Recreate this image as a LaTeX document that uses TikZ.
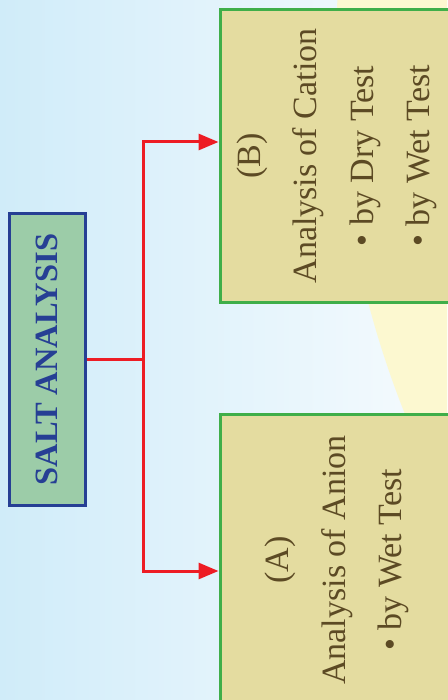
\documentclass[tikz,border=0pt]{standalone}
\usepackage{fontspec}
\setmainfont{Liberation Serif}
\usetikzlibrary{arrows.meta}

\definecolor{bgblue}{HTML}{D0ECF9}
\definecolor{bgwhite}{HTML}{F6FBFE}
\definecolor{glow}{HTML}{FCF8D0}
\definecolor{saltfill}{HTML}{9CCCA8}
\definecolor{saltblue}{HTML}{263F94}
\definecolor{linkred}{HTML}{ED1C24}
\definecolor{boxgreen}{HTML}{3FAE49}
\definecolor{boxfill}{HTML}{E4DCA0}
\definecolor{boxtext}{HTML}{5C4A24}

\tikzset{
    saltbox/.style={draw=saltblue, line width=3pt, fill=saltfill, rotate=90,
        minimum width=292pt, minimum height=76pt, text=saltblue,
        font=\fontsize{32.5}{38}\selectfont\bfseries},
    testbox/.style={draw=boxgreen, line width=3pt, fill=boxfill, rotate=90,
        minimum width=292pt, minimum height=234pt, text=boxtext, align=center,
        font=\fontsize{34}{56.5}\selectfont},
    redline/.style={draw=linkred, line width=3pt},
    link/.style={redline, -{Triangle[length=20pt,width=16pt]}},
}

\begin{document}
\begin{tikzpicture}[x=1pt, y=-1pt]
            \useasboundingbox (0,0) rectangle (447,700);
            \begin{scope}
                \clip (0,0) rectangle (447,700);
                \shade[left color=bgblue, right color=bgwhite] (0,0) rectangle (447,700);
                \fill[glow] (1312,53) circle[radius=976pt];
            \end{scope}

            \node[saltbox] (salt) at (47,359.5) {SALT ANALYSIS};
            \node[testbox] (cation) at (337,156) {(B)\\Analysis of Cation\\• by Dry Test\\• by Wet Test};
            \node[testbox] (anion) at (337,560) {(A)\\Analysis of Anion\\• by Wet Test};

            \coordinate (fork) at (143,359.5);
            \draw[redline] (salt.south) -- (fork);
            \draw[link] (fork) |- ([yshift=14pt]cation.north);
            \draw[link] (fork) |- ([yshift=-11pt]anion.north);
        \end{tikzpicture}
\end{document}
